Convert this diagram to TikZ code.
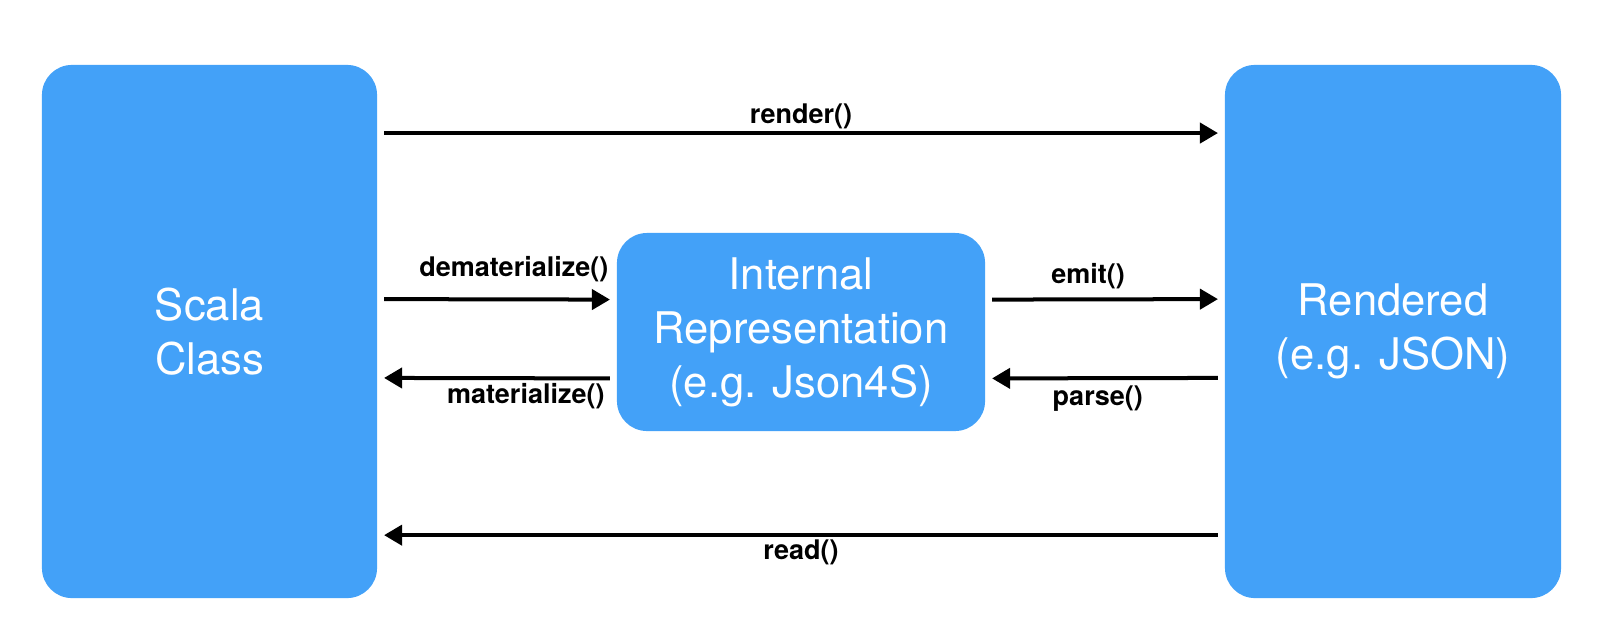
\documentclass[tikz,border=0pt]{standalone}
\usepackage{fontspec}
\setmainfont{TeX Gyre Heros}
\usepackage{xcolor}
\usepackage{tikz}
\usetikzlibrary{arrows.meta}
\usetikzlibrary{calc}
\usetikzlibrary{positioning}

\definecolor{boxblue}{RGB}{67,161,248}

\begin{document}
\begin{tikzpicture}[x=0.025cm,y=-0.025cm,>={Triangle[length=0.45cm,width=0.5cm]},shorten >=0.175cm,shorten <=0.175cm,line width=0.1cm]
 				 \tikzstyle{blk}=[fill=boxblue, rounded corners=0.75cm, inner sep=0pt, outer sep=0pt, text=white, align=center, font=\fontsize{31}{38.4}\selectfont]
 				 \tikzstyle{lbl}=[font=\fontsize{19.2}{22}\selectfont\bfseries, inner sep=0pt, anchor=base]
 				 \useasboundingbox (0,0) rectangle (1602,640);
 					 \node[blk, minimum width=8.375cm, minimum height=13.325cm] (scala) at (209.5,331.5) {Scala\\Class};
 					 \node[blk, minimum width=8.4cm, minimum height=13.325cm] (rend) at (1393,331.5) {Rendered\\(e.g. JSON)};
 					 \node[blk, minimum width=9.2cm, minimum height=4.95cm] (ir) at (801,332) {Internal\\Representation\\(e.g. Json4S)};
 					  \path
							  ([yshift=4.96cm]scala.east) edge[->] node[lbl, pos=0.5, yshift=0.24cm] {render()} ([yshift=4.96cm]rend.west)
 					 			([yshift=0.81cm]scala.east) edge[->] node[lbl, pos=0.57, yshift=0.575cm] {dematerialize()} ([yshift=0.81cm]ir.west)
 					 			([yshift=-1.16cm]ir.west) edge[->] node[lbl, pos=0.38, yshift=-0.625cm] {materialize()} ([yshift=-1.16cm]scala.east)
 					 			([yshift=0.81cm]ir.east) edge[->] node[lbl, pos=0.43, yshift=0.4cm] {emit()} ([yshift=0.81cm]rend.west)
 					 			([yshift=-1.16cm]rend.west) edge[->] node[lbl, pos=0.53, yshift=-0.675cm] {parse()} ([yshift=-1.16cm]ir.east)
 					 			([yshift=-5.09cm]rend.west) edge[->] node[lbl, pos=0.5, yshift=-0.6cm] {read()} ([yshift=-5.09cm]scala.east);
\end{tikzpicture}
\end{document}
